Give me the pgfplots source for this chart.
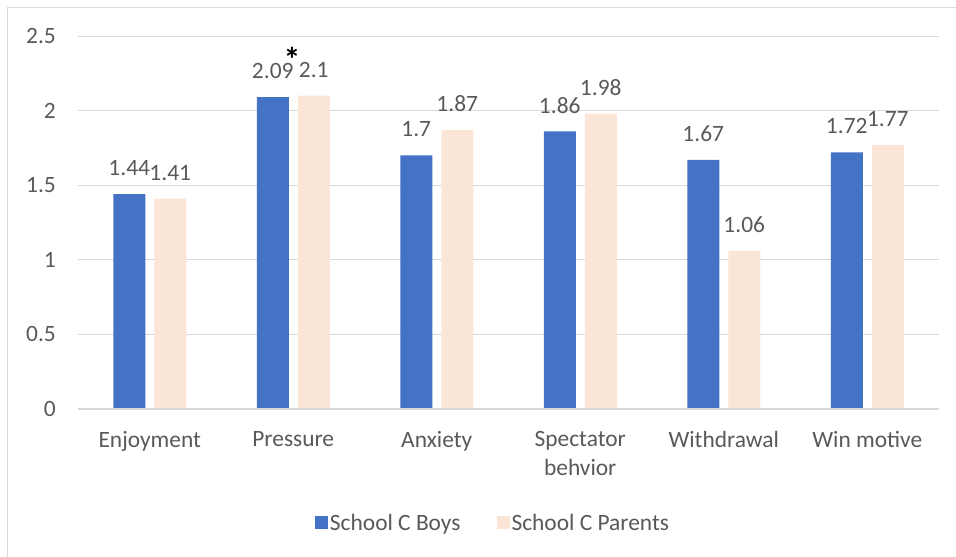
\documentclass[border=0pt]{standalone}
\usepackage{pgfplots}
\pgfplotsset{compat=1.18}
\usepackage{fontspec}
\setmainfont{Carlito}
\definecolor{boysblue}{HTML}{4472C4}
\definecolor{parpeach}{HTML}{FBE5D6}
\definecolor{textgray}{HTML}{595959}
\definecolor{gridgray}{HTML}{D9D9D9}
\newcommand{\lblfont}{\fontsize{23.5}{29}\selectfont}
\begin{document}
\begin{tikzpicture}
\draw[color=gridgray, line width=1.5bp] (7.5bp,-557bp) -- (7.5bp,-7.5bp) -- (956bp,-7.5bp);
\begin{axis}[
  at={(78bp,-409bp)}, anchor=south west,
  scale only axis, width=861bp, height=373bp,
  ybar=9bp, bar width=32bp,
  xmin=-0.5, xmax=5.5, ymin=0, ymax=2.5,
  xtick={0,1,2,3,4,5},
  xticklabels={Enjoyment,Pressure,Anxiety,{Spectator\\behvior},Withdrawal,Win motive},
  ytick={0,0.5,1,1.5,2,2.5},
  major tick length=0pt,
  axis line style={draw=none},
  ymajorgrids, grid style={gridgray, line width=1bp},
  /pgf/number format/assume math mode=true,
  xticklabel style={font=\lblfont, text=textgray, align=center, anchor=north, inner sep=0pt, yshift=-22bp},
  yticklabel style={font=\lblfont, text=textgray, anchor=east, inner sep=0pt, xshift=-22bp},
  clip=false,
  nodes near coords,
  nodes near coords style={font=\lblfont, text=textgray, inner sep=0pt, anchor=south, yshift=18bp},
  legend columns=2,
  legend style={at={(0.482,-0.3056)}, anchor=center, draw=none, font=\lblfont, text=textgray,
    /tikz/every even column/.append style={column sep=34bp}},
  legend image code/.code={\fill[#1, draw=none] (0bp,-6.5bp) rectangle (13bp,6.5bp);},
]
\addplot[fill=boysblue, draw=none] coordinates {(0,1.44) (1,2.09) (2,1.7) (3,1.86) (4,1.67) (5,1.72)};
\addplot[fill=parpeach, draw=none] coordinates {(0,1.41) (1,2.1) (2,1.87) (3,1.98) (4,1.06) (5,1.77)};
\legend{School C Boys, School C Parents}
\draw[gridgray, line width=1.5bp] (rel axis cs:0,0) -- (rel axis cs:1,0);
\node[anchor=base, font=\fontsize{34}{34}\selectfont\bfseries, text=black, inner sep=0pt] at (axis cs:0.991,2.26) {*};
\end{axis}
\pgfresetboundingbox
\useasboundingbox (0bp,0bp) rectangle (956bp,-557bp);
\end{tikzpicture}
\end{document}
